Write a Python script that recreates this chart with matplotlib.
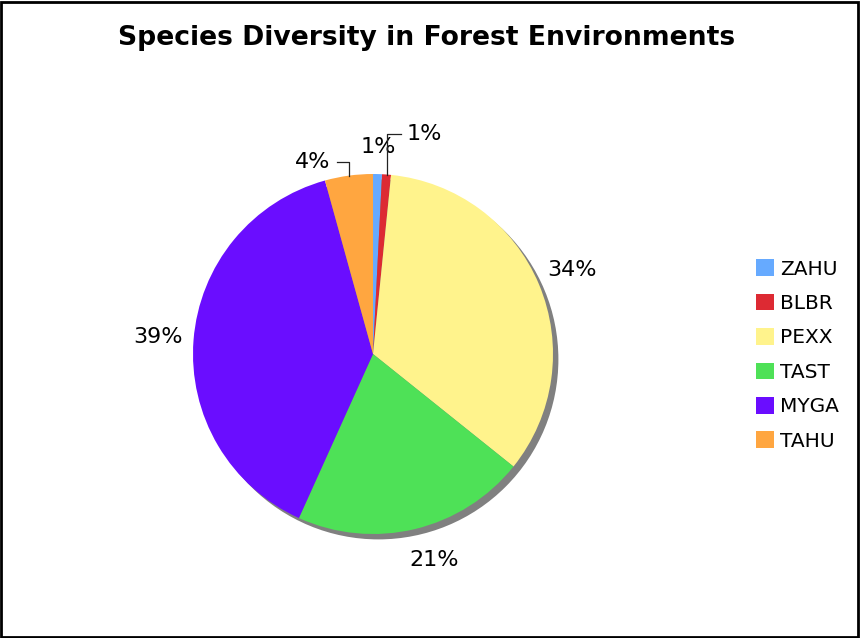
import numpy as np
import matplotlib.pyplot as plt
from matplotlib.patches import Rectangle, Circle, Patch

species = ['ZAHU', 'BLBR', 'PEXX', 'TAST', 'MYGA', 'TAHU']
shares = [0.8, 0.8, 34.15, 21.0, 38.95, 4.3]
colors = ['#66aaff', '#dd2a33', '#fff38c', '#4ee157', '#6a0dff', '#ffa640']

W, H = 860, 638
fig = plt.figure(figsize=(W / 100, H / 100), dpi=100)

# axes cover the whole figure; 1 data unit = 180 px, pie centre at (373, 354) px
s = 180.0
cx, cy = 373, 354
ax = fig.add_axes([0, 0, 1, 1])

# drop shadow (offset right / down)
ax.add_patch(Circle((0.03, -0.03), 1.0, facecolor='#808080', edgecolor='none', zorder=0))

wedges, _ = ax.pie(shares, colors=colors, startangle=90, counterclock=False,
                   wedgeprops=dict(linewidth=0, zorder=1))

ax.set_xlim(-cx / s, (W - cx) / s)
ax.set_ylim(-(H - cy) / s, cy / s)
ax.set_aspect('auto')
ax.axis('off')

# leader lines for the small slices: (horizontal offset, line height)
leaders = {'BLBR': (0.078, 1.222), 'TAHU': (-0.067, 1.067)}
# small nudges for the larger labels (x, y in data units)
nudge = {'TAST': (0.06, 0.02)}

for name, w, v in zip(species, wedges, shares):
    lab = f"{round(v)}%"
    mid = np.deg2rad((w.theta1 + w.theta2) / 2)
    ex, ey = np.cos(mid), np.sin(mid)
    if name in leaders:
        dx, ly = leaders[name]
        ax.plot([ex, ex, ex + dx], [ey, ly, ly], color='#222222', lw=0.9, zorder=3)
        ha = 'left' if dx > 0 else 'right'
        tx = ex + dx + (0.033 if dx > 0 else -0.033)
        ax.text(tx, ly, lab, ha=ha, va='center', fontsize=16)
    elif v < 2:
        ax.text(1.15 * ex, 1.15 * ey, lab, ha='center', va='center', fontsize=16)
    else:
        nx, ny = nudge.get(name, (0, 0))
        ax.text(1.2 * ex + nx, 1.2 * ey + ny, lab, ha='center', va='center', fontsize=16)

fig.text(0.496, 1 - 38 / H, 'Species Diversity in Forest Environments',
         ha='center', va='center', fontsize=19.2, fontweight='bold')

handles = [Patch(facecolor=c, edgecolor='none') for c in colors]
fig.legend(handles, species, loc='center left', bbox_to_anchor=(748 / W, 1 - 355 / H),
           frameon=False, fontsize=14.5, handlelength=0.9, handleheight=0.9,
           handletextpad=0.3, labelspacing=0.75, borderaxespad=0)

fig.patches.append(Rectangle((1 / W, 1.5 / H), 1 - 3 / W, 1 - 3 / H, transform=fig.transFigure,
                             fill=False, edgecolor='black', linewidth=2, zorder=10))

fig.savefig('out.png', dpi=100)
